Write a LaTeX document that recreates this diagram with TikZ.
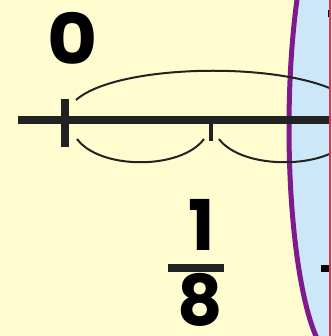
\documentclass[tikz,border=0pt]{standalone}
\usepackage{fontspec}
\setmainfont{Poppins}
\usepackage{tikz}
\definecolor{paper}{RGB}{255,253,208}
\definecolor{sky}{RGB}{204,232,248}
\definecolor{plum}{RGB}{126,26,142}
\definecolor{ink}{RGB}{34,34,34}
\definecolor{edge}{RGB}{232,48,74}

\begin{document}
\begin{tikzpicture}[x=1pt, y=-1pt,
		digit/.style={font=\fontsize{70}{70}\selectfont\bfseries, inner sep=0pt},
		hop/.style={draw=ink, line width=2pt},
		axis/.style={draw=ink, line width=8pt}]
		\fill[paper] (0,0) rectangle (331,336);
		\useasboundingbox (0,0) rectangle (331,336);
		\clip (0,0) rectangle (331,336);
		\filldraw[fill=sky, draw=plum, line width=5pt] (336,128) ellipse [x radius=47, y radius=230];
		\coordinate (west) at (18,120);
		\coordinate (east) at (340,120);
		\coordinate (zero) at (65,120);
		\coordinate (eighth) at (210.5,120);
		\draw[axis] (west) -- (east);
		\draw[axis] ([yshift=21pt]zero) -- ([yshift=-27pt]zero);
		\draw[ink, line width=4pt] (eighth) -- ([yshift=-21pt]eighth);
		\draw[hop] (76,100) .. controls (120,61) and (306,61) .. (350,100);
		\draw[hop] (77,139) .. controls (100,170) and (181,170) .. (204,139);
		\draw[hop] (219,139) .. controls (242,170) and (327,170) .. (350,139);
		\node[digit, xscale=1.1] (lbl0) at (73,38) {0};
		\node[digit] (num) at (202,225) {1};
		\node[digit] (den) at (200,300) {8};
		\draw[ink, line width=8pt] (168,268) -- (224,268);
		\fill[black] (328,10) rectangle (331,17);
		\fill[black] (321,265) rectangle (331,272);
		\draw[edge, line width=1.2pt] (330,0) -- (330,336);
	\end{tikzpicture}
\end{document}
